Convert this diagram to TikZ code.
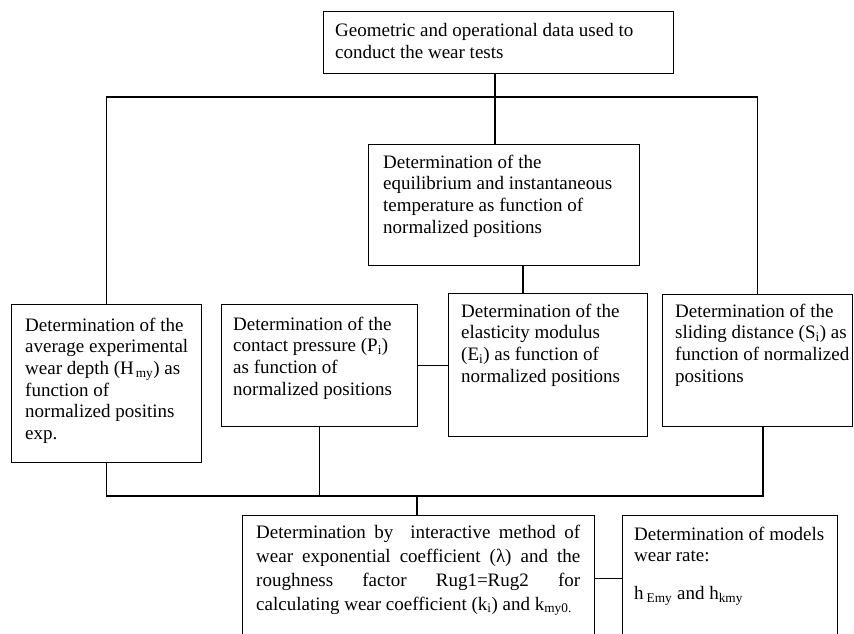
\documentclass[tikz,border=0pt]{standalone}
\usepackage{fontspec}
\setmainfont{Liberation Serif}
\usetikzlibrary{calc}
\begin{document}
\begin{tikzpicture}[x=1pt,y=-1pt,
  box/.style={draw, line width=1.3pt, inner sep=0pt, anchor=north west},
  txt/.style={inner sep=0pt, anchor=north west, align=left, font=\fontsize{19}{21.7}\selectfont},
  conn/.style={line width=1.3pt}]
\useasboundingbox (0,0) rectangle (854,634);
\clip (0,0) rectangle (854,634);
% boxes
\node[box, minimum width=350pt, minimum height=62pt] (top) at (323,11) {};
\node[box, minimum width=271pt, minimum height=121pt] (equil) at (368,144) {};
\node[box, minimum width=190pt, minimum height=158pt] (left) at (11,304) {};
\node[box, minimum width=196pt, minimum height=122pt] (contact) at (221,304) {};
\node[box, minimum width=199pt, minimum height=143pt] (elast) at (448,293) {};
\node[box, minimum width=190pt, minimum height=132pt] (slide) at (662,294) {};
\node[box, minimum width=352pt, minimum height=126pt] (bottom) at (242,515) {};
\node[box, minimum width=215pt, minimum height=126pt] (rbox) at (622,515) {};
% texts
\node[txt] (topt) at (335,23) {Geometric and operational data used to\\conduct the wear tests};
\node[txt] (equilt) at (383,154.5) {Determination of the\\equilibrium and instantaneous\\temperature as function of\\normalized positions};
\node[txt] (leftt) at (25,317.5) {Determination of the\\average experimental\\wear depth (H\kern2pt\textsubscript{my}) as\\function of\\normalized positins\\exp.};
\node[txt] (contactt) at (233,316.5) {Determination of the\\contact pressure (P\textsubscript{i})\\as function of\\normalized positions};
\node[txt] (elastt) at (461,303.5) {Determination of the\\elasticity modulus\\(E\textsubscript{i}) as function of\\normalized positions};
\node[txt] (slidet) at (675,303.5) {Determination of the\\sliding distance (S\textsubscript{i}) as\\function of normalized\\positions};
\node[txt, font=\fontsize{19}{24}\selectfont] (bottomt) at (256,524.5) {\makebox[324pt][s]{Determination by\ \ interactive method of}\\\makebox[324pt][s]{wear exponential coefficient (λ) and the}\\\makebox[324pt][s]{roughness factor Rug1=Rug2 for}\\calculating wear coefficient (k\textsubscript{i}) and k\textsubscript{my0.}};
\node[txt] (rboxt) at (634,526.5) {Determination of models\\wear rate:\\[16pt]h\kern3pt\textsubscript{Emy} and h\textsubscript{kmy}};
% connectors
\coordinate (jt) at (495,97);
\coordinate (je) at (523,0);
\coordinate (jb) at (417,496);
\coordinate (js) at (763,0);
\draw[conn] (top.south -| jt) -- (jt);
\draw[conn] (left.north) |- (jt) -| (slide.north);
\draw[conn] (jt) -- (jt |- equil.north);
\draw[conn] (equil.south -| je) -- (elast.north -| je);
\draw[conn] (contact.east) -- (contact.east -| elast.west);
\draw[conn] (left.south) |- (js |- jb) -- (slide.south -| js);
\draw[conn] (contact.south) -- (contact.south |- jb);
\draw[conn] (jb) -- (jb |- bottom.north);
\draw[conn] (bottom.east) -- (rbox.west);
\end{tikzpicture}
\end{document}
